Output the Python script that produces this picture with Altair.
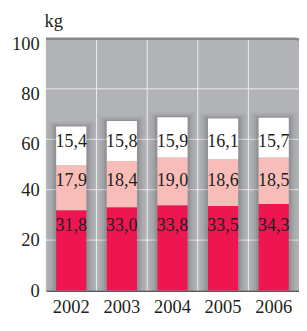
import altair as alt
import pandas as pd

years = ["2002", "2003", "2004", "2005", "2006"]
bottom_vals = [31.8, 33.0, 33.8, 33.5, 34.3]
middle_vals = [17.9, 18.4, 19.0, 18.6, 18.5]
top_vals = [15.4, 15.8, 15.9, 16.1, 15.7]
y_ticks = [0, 20, 40, 60, 80, 100]

series = [("s1", bottom_vals, "#ee1651"), ("s2", middle_vals, "#f8bdb8"), ("s3", top_vals, "#ffffff")]

rows = []
for i, y in enumerate(years):
    base = 0.0
    for order, (name, vals, _) in enumerate(series):
        v = vals[i]
        rows.append({"year": y, "series": name, "order": order, "value": v,
                     "start": base, "end": base + v,
                     "label": f"{v:.1f}".replace(".", ",")})
        base += v
df = pd.DataFrame(rows)
df["label_y"] = df.groupby("series")["end"].transform("min") - 6
tot = df.groupby("year", as_index=False)["end"].max().rename(columns={"end": "total"})

W, H = 260, 259
FONT = "Liberation Serif"
INK = "#231f20"

yscale = alt.Scale(domain=[0, 100], nice=False, zero=True)
xscale = alt.Scale(domain=years, paddingInner=0, paddingOuter=0)

x_axis = alt.Axis(title=None, labelAngle=0, ticks=False, grid=False, domain=True,
                  domainColor=INK, domainWidth=1.5, labelPadding=8)
y_axis = alt.Axis(values=y_ticks, grid=False, ticks=False, domain=False, labelPadding=7,
                  labelOffset={"condition": {"test": "datum.value >= 60", "value": 5}, "value": 0},
                  title="kg", titleAngle=0, titleAlign="left", titleBaseline="alphabetic",
                  titleX=-2, titleY=-12, titleFont=FONT, titleFontSize=19,
                  titleFontWeight="normal", titleColor=INK)

one = alt.Data(values=[{"k": 1}])
bg_dark = alt.Chart(one).mark_rect(color="#86878b", cornerRadiusTopRight=17).encode(
    x=alt.value(0), x2=alt.value(W + 12), y=alt.value(-1), y2=alt.value(H))
bg_light = alt.Chart(one).mark_rect(color="#b2b3b7", cornerRadiusTopRight=15).encode(
    x=alt.value(0), x2=alt.value(W + 10), y=alt.value(1.5), y2=alt.value(H))

grid_df = pd.DataFrame({"start": [t for t in y_ticks if 0 < t < 100]})
hgrid = alt.Chart(grid_df).mark_rule(color="#ececec", strokeWidth=1).encode(
    y=alt.Y("start:Q", scale=yscale, axis=y_axis), x=alt.value(0), x2=alt.value(W))
vgrid = alt.Chart(pd.DataFrame({"year": years[1:]})).mark_rule(color="#ececec", strokeWidth=1).encode(
    x=alt.X("year:N", scale=xscale, bandPosition=0, axis=x_axis), y=alt.value(1.5), y2=alt.value(H))

shadows = []
for sz, op, ext in [(47, 0.04, 2.0), (41, 0.06, 1.2), (36, 0.09, 0.5)]:
    shadows.append(alt.Chart(tot).transform_calculate(start=f"datum.total + {ext}").mark_bar(
        size=sz, color="#000000", opacity=op).encode(
        x=alt.X("year:N", scale=xscale, axis=x_axis),
        y=alt.Y("start:Q", scale=yscale, axis=y_axis), y2=alt.datum(0)))

bars = alt.Chart(df).mark_bar(size=31).encode(
    x=alt.X("year:N", scale=xscale, axis=x_axis),
    y=alt.Y("start:Q", scale=yscale, axis=y_axis),
    y2="end:Q",
    color=alt.Color("series:N", scale=alt.Scale(domain=[s[0] for s in series], range=[s[2] for s in series]), legend=None),
)

labels = alt.Chart(df).transform_calculate(start="datum.label_y").mark_text(
    font=FONT, fontSize=18.5, color=INK, baseline="middle", align="center").encode(
    x=alt.X("year:N", scale=xscale, axis=x_axis),
    y=alt.Y("start:Q", scale=yscale, axis=y_axis),
    text="label:N")

chart = alt.layer(bg_dark, bg_light, hgrid, vgrid, *shadows, bars, labels).properties(
    width=W, height=H,
    autosize=alt.AutoSizeParams(type="none"),
    padding={"left": 39, "top": 27, "right": 0, "bottom": 25},
).configure_view(stroke=None).configure_axis(
    labelFont=FONT, labelFontSize=19, labelColor=INK)

chart.save("out.html", embed_options={"renderer": "svg", "actions": False})
